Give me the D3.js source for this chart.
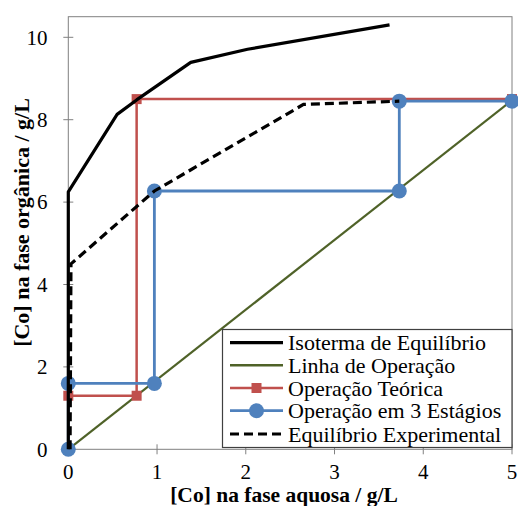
<!DOCTYPE html>
<html>
<head>
<meta charset="utf-8">
<script src="https://cdn.jsdelivr.net/npm/d3@7"></script>
<style>
  html, body { margin: 0; padding: 0; background: #fff; }
  svg { display: block; }
  text { font-family: "Liberation Serif", "Times New Roman", serif; }
</style>
</head>
<body>
<svg id="chart" width="518" height="506"></svg>
<script>
// Isotherm and McCabe-Thiele construction for Co extraction
const isotherm = [[0, 0], [0, 6.25], [0.55, 8.13], [0.77, 8.48], [1.38, 9.39], [2.02, 9.71], [3.62, 10.3]];
const operatingLine = [[0, 0], [5, 8.47]];
const theoreticalSteps = [[5, 8.5], [0.77, 8.5], [0.77, 1.3], [0, 1.3]];
const threeStages = [[5, 8.45], [3.73, 8.45], [3.73, 6.27], [0.97, 6.27], [0.97, 1.6], [0, 1.6], [0, 0]];
const experimental = [[0.02, 0], [0.03, 4.5], [0.97, 6.27], [2.65, 8.37], [3.73, 8.45]];

const xTicks = [0, 1, 2, 3, 4, 5];
const yTicks = [0, 2, 4, 6, 8, 10];

const legendLabels = [
  "Isoterma de Equilíbrio",
  "Linha de Operação",
  "Operação Teórica",
  "Operação em 3 Estágios",
  "Equilíbrio Experimental"
];

const colors = { black: "#000", green: "#4F6228", red: "#C0504D", blue: "#4F81BD", axis: "#808080" };

const svg = d3.select("#chart");
const m = { left: 68.3, right: 512, top: 16.7, bottom: 449.3 };

const x = d3.scaleLinear().domain([0, 5]).range([m.left, m.right]);
const y = d3.scaleLinear().domain([0, 10.5]).range([m.bottom, m.top]);

// plot frame
svg.append("rect")
  .attr("x", m.left).attr("y", m.top)
  .attr("width", m.right - m.left).attr("height", m.bottom - m.top)
  .attr("fill", "none").attr("stroke", colors.axis).attr("stroke-width", 1);

// crossing tick marks
svg.append("g").selectAll("line").data(xTicks).join("line")
  .attr("x1", d => x(d)).attr("x2", d => x(d))
  .attr("y1", m.bottom - 5).attr("y2", m.bottom + 5)
  .attr("stroke", colors.axis).attr("stroke-width", 1);
svg.append("g").selectAll("line").data(yTicks).join("line")
  .attr("x1", m.left - 5).attr("x2", m.left + 5)
  .attr("y1", d => y(d)).attr("y2", d => y(d))
  .attr("stroke", colors.axis).attr("stroke-width", 1);

// tick labels
svg.append("g").selectAll("text").data(xTicks).join("text")
  .attr("x", d => x(d)).attr("y", 478.5)
  .attr("text-anchor", "middle").attr("font-size", 21).attr("fill", "#000")
  .text(d => d);
svg.append("g").selectAll("text").data(yTicks).join("text")
  .attr("x", 47.5).attr("y", d => y(d) + 7.3)
  .attr("text-anchor", "end").attr("font-size", 21).attr("fill", "#000")
  .text(d => d);

// axis titles
svg.append("text")
  .attr("x", 284).attr("y", 502)
  .attr("text-anchor", "middle").attr("font-size", 21.5).attr("font-weight", "bold")
  .text("[Co] na fase aquosa / g/L");
svg.append("text")
  .attr("transform", "translate(29,222.5) rotate(-90)")
  .attr("text-anchor", "middle").attr("font-size", 22).attr("font-weight", "bold")
  .text("[Co] na fase orgânica / g/L");

const line = d3.line().x(d => x(d[0])).y(d => y(d[1]));
const plot = svg.append("g");

plot.append("path").datum(operatingLine).attr("d", line)
  .attr("fill", "none").attr("stroke", colors.green).attr("stroke-width", 2.2);

plot.append("path").datum(theoreticalSteps).attr("d", line)
  .attr("fill", "none").attr("stroke", colors.red).attr("stroke-width", 2.5);
plot.append("g").selectAll("rect").data(theoreticalSteps).join("rect")
  .attr("x", d => x(d[0]) - 5).attr("y", d => y(d[1]) - 5)
  .attr("width", 10).attr("height", 10).attr("fill", colors.red);

plot.append("path").datum(threeStages).attr("d", line)
  .attr("fill", "none").attr("stroke", colors.blue).attr("stroke-width", 2.8);
plot.append("g").selectAll("circle").data(threeStages).join("circle")
  .attr("cx", d => x(d[0])).attr("cy", d => y(d[1])).attr("r", 7.5)
  .attr("fill", colors.blue);

plot.append("path").datum(isotherm).attr("d", line)
  .attr("fill", "none").attr("stroke", colors.black).attr("stroke-width", 3.2)
  .attr("stroke-linejoin", "round");

plot.append("path").datum(experimental).attr("d", line)
  .attr("fill", "none").attr("stroke", colors.black).attr("stroke-width", 3.2)
  .attr("stroke-dasharray", "9,5");

// legend
const lg = svg.append("g");
lg.append("rect")
  .attr("x", 222.5).attr("y", 329.5).attr("width", 289.5).attr("height", 118)
  .attr("fill", "#fff").attr("stroke", "#404040").attr("stroke-width", 1.2);

const rowY = [342.7, 365.3, 388, 410.7, 434];
const styles = [
  { stroke: colors.black, w: 3.2, dash: null, mark: null },
  { stroke: colors.green, w: 2.5, dash: null, mark: null },
  { stroke: colors.red, w: 2.5, dash: null, mark: "square" },
  { stroke: colors.blue, w: 2.8, dash: null, mark: "circle" },
  { stroke: colors.black, w: 3.2, dash: "9,5", mark: null }
];
legendLabels.forEach((label, i) => {
  const s = styles[i];
  const cy = rowY[i];
  lg.append("line")
    .attr("x1", 230).attr("x2", 283).attr("y1", cy).attr("y2", cy)
    .attr("stroke", s.stroke).attr("stroke-width", s.w)
    .attr("stroke-dasharray", s.dash);
  if (s.mark === "square") {
    lg.append("rect").attr("x", 251.5).attr("y", cy - 5).attr("width", 10).attr("height", 10).attr("fill", s.stroke);
  } else if (s.mark === "circle") {
    lg.append("circle").attr("cx", 256.5).attr("cy", cy).attr("r", 7.5).attr("fill", s.stroke);
  }
  lg.append("text")
    .attr("x", 288).attr("y", cy + 7.5)
    .attr("font-size", 22).attr("fill", "#000")
    .text(label);
});
</script>
</body>
</html>
